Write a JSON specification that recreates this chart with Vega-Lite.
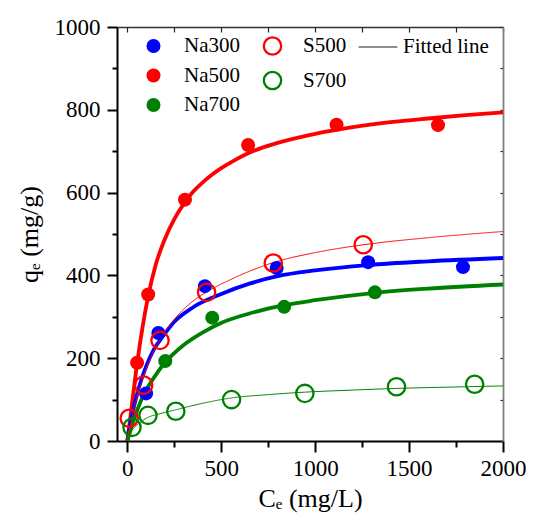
{
  "$schema": "https://vega.github.io/schema/vega-lite/v6.json",
  "width": 386,
  "height": 414,
  "autosize": {"type": "none"},
  "padding": {"left": 117, "top": 27, "right": 31, "bottom": 82},
  "config": {
    "font": "'Liberation Serif', 'DejaVu Serif', serif",
    "view": {"stroke": null},
    "axis": {"grid": false, "labelFont": "'Liberation Serif', 'DejaVu Serif', serif", "titleFont": "'Liberation Serif', 'DejaVu Serif', serif", "labelColor": "black", "titleColor": "black", "titleFontWeight": "normal"},
    "legend": {"labelFont": "'Liberation Serif', 'DejaVu Serif', serif", "labelFontSize": 21, "labelColor": "black", "padding": 0, "rowPadding": 7.5}
  },
  "datasets": {
    "pts": [
      {"series": "Na300", "C": 100, "q": 115},
      {"series": "Na300", "C": 165, "q": 261},
      {"series": "Na300", "C": 413, "q": 374},
      {"series": "Na300", "C": 795, "q": 418},
      {"series": "Na300", "C": 1282, "q": 432},
      {"series": "Na300", "C": 1787, "q": 420},
      {"series": "Na500", "C": 52, "q": 189},
      {"series": "Na500", "C": 111, "q": 354},
      {"series": "Na500", "C": 307, "q": 583},
      {"series": "Na500", "C": 643, "q": 715},
      {"series": "Na500", "C": 1114, "q": 764},
      {"series": "Na500", "C": 1654, "q": 763},
      {"series": "Na700", "C": 202, "q": 193},
      {"series": "Na700", "C": 452, "q": 298},
      {"series": "Na700", "C": 835, "q": 324},
      {"series": "Na700", "C": 1318, "q": 359},
      {"series": "S500", "C": 10, "q": 55},
      {"series": "S500", "C": 87, "q": 135},
      {"series": "S500", "C": 174, "q": 243},
      {"series": "S500", "C": 422, "q": 359},
      {"series": "S500", "C": 777, "q": 430},
      {"series": "S500", "C": 1256, "q": 474},
      {"series": "S700", "C": 25, "q": 33},
      {"series": "S700", "C": 110, "q": 62},
      {"series": "S700", "C": 258, "q": 72},
      {"series": "S700", "C": 555, "q": 100},
      {"series": "S700", "C": 945, "q": 115},
      {"series": "S700", "C": 1433, "q": 131},
      {"series": "S700", "C": 1849, "q": 137}
    ],
    "fit": [
      {"series": "Na500", "C": 0, "q": 0},
      {"series": "Na500", "C": 20, "q": 72},
      {"series": "Na500", "C": 52, "q": 187},
      {"series": "Na500", "C": 80, "q": 272},
      {"series": "Na500", "C": 111, "q": 350},
      {"series": "Na500", "C": 150, "q": 424},
      {"series": "Na500", "C": 200, "q": 488},
      {"series": "Na500", "C": 250, "q": 536},
      {"series": "Na500", "C": 307, "q": 577},
      {"series": "Na500", "C": 350, "q": 602},
      {"series": "Na500", "C": 400, "q": 624},
      {"series": "Na500", "C": 450, "q": 643},
      {"series": "Na500", "C": 500, "q": 659},
      {"series": "Na500", "C": 570, "q": 678},
      {"series": "Na500", "C": 643, "q": 695},
      {"series": "Na500", "C": 800, "q": 720},
      {"series": "Na500", "C": 1000, "q": 742},
      {"series": "Na500", "C": 1200, "q": 758},
      {"series": "Na500", "C": 1400, "q": 770},
      {"series": "Na500", "C": 1600, "q": 779},
      {"series": "Na500", "C": 1800, "q": 787},
      {"series": "Na500", "C": 2000, "q": 794},
      {"series": "Na300", "C": 0, "q": 0},
      {"series": "Na300", "C": 20, "q": 51},
      {"series": "Na300", "C": 60, "q": 127},
      {"series": "Na300", "C": 100, "q": 180},
      {"series": "Na300", "C": 140, "q": 220},
      {"series": "Na300", "C": 185, "q": 250},
      {"series": "Na300", "C": 250, "q": 288},
      {"series": "Na300", "C": 350, "q": 323},
      {"series": "Na300", "C": 500, "q": 355},
      {"series": "Na300", "C": 650, "q": 380},
      {"series": "Na300", "C": 800, "q": 398},
      {"series": "Na300", "C": 1000, "q": 412},
      {"series": "Na300", "C": 1280, "q": 425},
      {"series": "Na300", "C": 1600, "q": 434},
      {"series": "Na300", "C": 2000, "q": 442},
      {"series": "Na700", "C": 0, "q": 0},
      {"series": "Na700", "C": 30, "q": 45},
      {"series": "Na700", "C": 78, "q": 103},
      {"series": "Na700", "C": 149, "q": 158},
      {"series": "Na700", "C": 202, "q": 190},
      {"series": "Na700", "C": 300, "q": 232},
      {"series": "Na700", "C": 400, "q": 262},
      {"series": "Na700", "C": 493, "q": 284},
      {"series": "Na700", "C": 650, "q": 308},
      {"series": "Na700", "C": 835, "q": 328},
      {"series": "Na700", "C": 1000, "q": 340},
      {"series": "Na700", "C": 1318, "q": 358},
      {"series": "Na700", "C": 1600, "q": 368},
      {"series": "Na700", "C": 2000, "q": 378},
      {"series": "S500", "C": 0, "q": 0},
      {"series": "S500", "C": 20, "q": 47},
      {"series": "S500", "C": 50, "q": 103},
      {"series": "S500", "C": 94, "q": 166},
      {"series": "S500", "C": 130, "q": 207},
      {"series": "S500", "C": 174, "q": 245},
      {"series": "S500", "C": 250, "q": 294},
      {"series": "S500", "C": 350, "q": 338},
      {"series": "S500", "C": 422, "q": 360},
      {"series": "S500", "C": 550, "q": 390},
      {"series": "S500", "C": 777, "q": 431},
      {"series": "S500", "C": 1000, "q": 455},
      {"series": "S500", "C": 1256, "q": 474},
      {"series": "S500", "C": 1600, "q": 491},
      {"series": "S500", "C": 2000, "q": 506},
      {"series": "S700", "C": 0, "q": 0},
      {"series": "S700", "C": 20, "q": 22},
      {"series": "S700", "C": 50, "q": 38},
      {"series": "S700", "C": 105, "q": 56},
      {"series": "S700", "C": 175, "q": 66},
      {"series": "S700", "C": 255, "q": 75},
      {"series": "S700", "C": 400, "q": 91},
      {"series": "S700", "C": 555, "q": 104},
      {"series": "S700", "C": 750, "q": 112},
      {"series": "S700", "C": 945, "q": 118},
      {"series": "S700", "C": 1200, "q": 123},
      {"series": "S700", "C": 1433, "q": 127},
      {"series": "S700", "C": 1700, "q": 130},
      {"series": "S700", "C": 2000, "q": 133}
    ]
  },
  "layer": [
    {
      "data": {"name": "fit"},
      "transform": [{"filter": {"field": "series", "oneOf": ["Na300", "Na500", "Na700"]}}],
      "mark": {"type": "line", "strokeWidth": 3.8, "interpolate": "monotone"},
      "encoding": {
        "x": {"field": "C", "type": "quantitative", "scale": {"domain": [-55, 2000], "nice": false, "zero": false},
          "axis": {"orient": "top", "values": [0, 250, 500, 750, 1000, 1250, 1500, 1750, 2000], "labels": false, "title": null, "tickSize": -5, "tickWidth": 1.2, "tickColor": "#222", "domainColor": "#333", "domainWidth": 1.5}},
        "y": {"field": "q", "type": "quantitative", "scale": {"domain": [0, 1000], "nice": false},
          "axis": {"orient": "right", "values": [0, 100, 200, 300, 400, 500, 600, 700, 800, 900, 1000], "labels": false, "title": null, "tickSize": -3, "tickWidth": 1.2, "tickColor": "#222", "domainColor": "#808080", "domainWidth": 1.8}},
        "color": {"field": "series", "type": "nominal", "scale": {"domain": ["Na300", "Na500", "Na700", "S500", "S700"], "range": ["#0000ff", "#ff0000", "#008000", "#ff0000", "#008000"]}, "legend": null},
        "detail": {"field": "series"}
      }
    },
    {
      "data": {"name": "fit"},
      "transform": [{"filter": {"field": "series", "oneOf": ["S500", "S700"]}}],
      "mark": {"type": "line", "strokeWidth": 1, "interpolate": "monotone"},
      "encoding": {
        "x": {"field": "C", "type": "quantitative",
          "axis": {"orient": "bottom", "values": [250, 750, 1250, 1750], "labels": false, "title": null, "domain": false, "tickSize": 6, "tickWidth": 2, "tickColor": "black"}},
        "y": {"field": "q", "type": "quantitative",
          "axis": {"orient": "left", "values": [100, 300, 500, 700, 900], "labels": false, "title": null, "domain": false, "tickSize": 5, "tickWidth": 2, "tickColor": "black"}},
        "color": {"field": "series", "type": "nominal", "legend": null},
        "strokeDash": {"datum": "Fitted line", "scale": {"domain": ["Fitted line"], "range": [[1, 0]]},
          "legend": {"orient": "none", "legendX": 241, "legendY": 0, "title": null, "symbolType": "stroke", "symbolSize": 1500, "symbolStrokeColor": "black", "symbolStrokeWidth": 1, "labelOffset": 5}},
        "detail": {"field": "series"}
      }
    },
    {
      "data": {"name": "pts"},
      "transform": [{"filter": {"field": "series", "oneOf": ["Na300", "Na500", "Na700"]}}],
      "mark": {"type": "point", "filled": true, "shape": "circle", "size": 196, "opacity": 1},
      "encoding": {
        "x": {"field": "C", "type": "quantitative",
          "axis": {"orient": "bottom", "values": [0, 500, 1000, 1500, 2000], "format": "d", "title": "C\u2091 (mg/L)", "labelFontSize": 23, "titleFontSize": 26, "tickSize": 11, "tickWidth": 2, "tickColor": "black", "domainColor": "black", "domainWidth": 2, "labelPadding": 5, "titlePadding": 5, "labelFlush": false}},
        "y": {"field": "q", "type": "quantitative",
          "axis": {"orient": "left", "values": [0, 200, 400, 600, 800, 1000], "format": "d", "title": "q\u2091 (mg/g)", "labelFontSize": 23, "titleFontSize": 26, "tickSize": 10, "tickWidth": 2, "tickColor": "black", "domainColor": "black", "domainWidth": 2, "labelPadding": 7, "titlePadding": 12, "labelFlush": false}},
        "fill": {"field": "series", "type": "nominal", "scale": {"domain": ["Na300", "Na500", "Na700"], "range": ["#0000ff", "#ff0000", "#008000"]},
          "legend": {"orient": "none", "legendX": 26, "legendY": 8.5, "title": null, "symbolType": "circle", "symbolSize": 196, "symbolStrokeWidth": 0, "labelOffset": 20}}
      }
    },
    {
      "data": {"name": "pts"},
      "transform": [{"filter": {"field": "series", "oneOf": ["S500", "S700"]}}],
      "mark": {"type": "point", "filled": false, "shape": "circle", "size": 300, "strokeWidth": 2.3, "opacity": 1},
      "encoding": {
        "x": {"field": "C", "type": "quantitative", "axis": null},
        "y": {"field": "q", "type": "quantitative", "axis": null},
        "stroke": {"field": "series", "type": "nominal", "scale": {"domain": ["S500", "S700"], "range": ["#ff0000", "#008000"]},
          "legend": {"orient": "none", "legendX": 145, "legendY": 8.5, "title": null, "symbolType": "circle", "symbolSize": 300, "symbolStrokeWidth": 2.3, "symbolFillColor": "transparent", "labelOffset": 20}}
      }
    }
  ],
  "resolve": {"axis": {"x": "independent", "y": "independent"}}
}
